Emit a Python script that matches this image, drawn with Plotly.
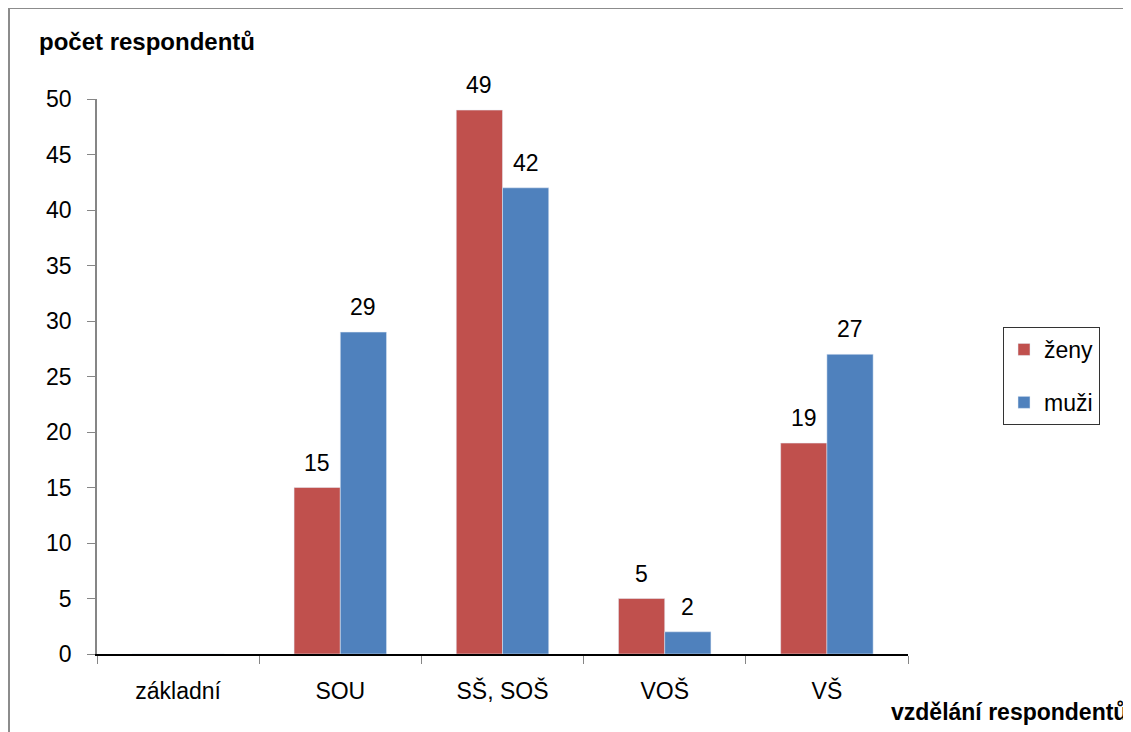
import plotly.graph_objects as go

categories = ["základní", "SOU", "SŠ, SOŠ", "VOŠ", "VŠ"]
zeny = [0, 15, 49, 5, 19]
muzi = [0, 29, 42, 2, 27]
y_ticks = [0, 5, 10, 15, 20, 25, 30, 35, 40, 45, 50]

W, H = 1131, 732
OFF = 8  # page body margin
# plot area in screenshot pixels
L, R, T, B = 97, 908, 99, 654

def px(x):
    return (x - L) / (R - L)

def py(y):
    return (B - y) / (B - T)

FONT = "Liberation Sans"
FS = 23
BARGAP = 0.43
half_bar = (R - L) / len(categories) * (1 - BARGAP) / 4

fig = go.Figure()
fig.add_trace(go.Bar(x=categories, y=zeny, name="ženy", marker_color="#C0504D",
                     legendgroup="a"))
fig.add_trace(go.Bar(x=categories, y=muzi, name="muži", marker_color="#4F81BD",
                     legendgroup="b"))

annotations = [
    dict(text="<b>počet respondentů</b>", xref="paper", yref="paper",
         x=px(37), y=py(42), xanchor="left", yanchor="middle", showarrow=False,
         font=dict(size=24, family=FONT)),
    dict(text="<b>vzdělání respondentů</b>", xref="paper", yref="paper",
         x=px(1129), y=py(712), xanchor="right", yanchor="middle", showarrow=False,
         font=dict(size=23, family=FONT)),
]
for vals, sh in ((zeny, -half_bar), (muzi, half_bar)):
    for c, v in zip(categories, vals):
        if v:
            annotations.append(dict(text=str(v), x=c, y=v, xref="x", yref="y",
                                    xshift=sh, yshift=10, yanchor="bottom",
                                    showarrow=False,
                                    font=dict(size=FS, family=FONT, color="black")))

fig.update_layout(
    width=W, height=H,
    margin=dict(l=L - OFF, r=W - (R - OFF), t=T - OFF, b=H - (B - OFF), autoexpand=False),
    paper_bgcolor="white", plot_bgcolor="white",
    font=dict(family=FONT, size=FS, color="black"),
    barmode="group", bargap=BARGAP, bargroupgap=0,
    showlegend=True,
    legend=dict(x=px(1003), y=py(327), xanchor="left", yanchor="top",
                bordercolor="#333333", borderwidth=1, tracegroupgap=20,
                font=dict(size=FS, family=FONT), itemwidth=30),
    xaxis=dict(showline=True, linecolor="black", linewidth=1.5,
               ticks="outside", tickson="boundaries", ticklen=8, tickcolor="#868686",
               tickfont=dict(size=FS), ticklabelstandoff=16),
    yaxis=dict(range=[0, 50], tickvals=y_ticks, showgrid=False, zeroline=False,
               showline=True, linecolor="#868686", linewidth=1.5,
               ticks="outside", ticklen=8, tickcolor="#868686",
               tickfont=dict(size=FS), ticklabelstandoff=11),
    shapes=[dict(type="rect", xref="paper", yref="paper",
                 x0=px(9), x1=1.5, y0=-0.5, y1=py(8),
                 line=dict(color="#8C8C8C", width=2), layer="below")],
    annotations=annotations,
)

fig.write_html("out.html")
